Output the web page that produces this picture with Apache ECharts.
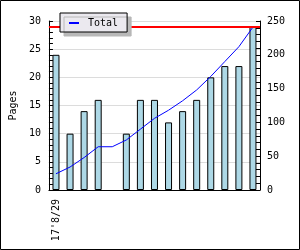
<!DOCTYPE html>
<html>
<head>
<meta charset="utf-8">
<script src="https://cdn.jsdelivr.net/npm/echarts@6/dist/echarts.min.js"></script>
<style>
  html, body { margin: 0; padding: 0; background: #fff; }
  #main { width: 300px; height: 250px; }
</style>
</head>
<body>
<div id="main"></div>
<script>
// days shown on the x axis (only the first one gets a label)
var days = ["17'8/29", "17'8/30", "17'8/31", "17'9/1", "17'9/2", "17'9/3", "17'9/4", "17'9/5",
            "17'9/6", "17'9/7", "17'9/8", "17'9/9", "17'9/10", "17'9/11", "17'9/12"];
// pages per day (left axis), no bar on the empty day
var pages = [24, 10, 14, 16, null, 10, 16, 16, 12, 14, 16, 20, 22, 22, 29];
// running total (right axis)
var total = [24, 34, 48, 64, 64, 74, 90, 106, 118, 132, 148, 168, 190, 212, 241];
var maxLine = 29;

var font = "DejaVu Sans Mono";
var myChart = echarts.init(document.getElementById("main"));
myChart.setOption({
  animation: false,
  textStyle: { fontFamily: font },
  graphic: [{
    type: "rect",
    shape: { x: 0.5, y: 0.5, width: 299, height: 249 },
    style: { fill: "none", stroke: "#000", lineWidth: 1 },
    z: 100
  }],
  legend: {
    left: 60,
    top: 13,
    data: [{ name: "Total", icon: "rect" }],
    itemWidth: 10,
    itemHeight: 2,
    padding: [5, 9, 4, 9],
    backgroundColor: "#ebe9ef",
    borderColor: "#000",
    borderWidth: 1,
    shadowColor: "#b8b8b8",
    shadowOffsetX: 4,
    shadowOffsetY: 4,
    textStyle: { fontFamily: font, fontSize: 10, color: "#000", padding: [0, 0, 0, 4] },
    z: 10
  },
  grid: { left: 41, right: 40, top: 21, bottom: 60 },
  xAxis: {
    type: "category",
    data: days,
    axisLine: { lineStyle: { color: "#000", width: 1 } },
    axisTick: { inside: true, length: 3, interval: 0, lineStyle: { color: "#000" } },
    axisLabel: {
      rotate: 90,
      margin: 9,
      fontFamily: font,
      fontSize: 10,
      color: "#000",
      interval: function (i) { return i === 0; }
    },
    splitLine: { show: false }
  },
  yAxis: [
    {
      type: "value",
      min: 0,
      max: 30,
      interval: 5,
      name: "Pages",
      nameLocation: "middle",
      nameGap: 28,
      nameTextStyle: { fontFamily: font, fontSize: 10, color: "#000" },
      axisLine: { show: true, lineStyle: { color: "#000" } },
      axisTick: { show: true, inside: true, length: 4, lineStyle: { color: "#000" } },
      minorTick: { show: true, splitNumber: 5, length: 4, lineStyle: { color: "#000" } },
      axisLabel: { margin: 8, fontFamily: font, fontSize: 10, color: "#000" },
      splitLine: { show: true, lineStyle: { color: "#dcdcdc" } }
    },
    {
      type: "value",
      min: 0,
      max: 250,
      interval: 50,
      position: "right",
      axisLine: { show: true, lineStyle: { color: "#000" } },
      axisTick: { show: true, inside: true, length: 4, lineStyle: { color: "#000" } },
      minorTick: { show: true, splitNumber: 5, length: 4, lineStyle: { color: "#000" } },
      axisLabel: { margin: 7, fontFamily: font, fontSize: 10, color: "#000" },
      splitLine: { show: false }
    }
  ],
  series: [
    {
      name: "Pages",
      type: "bar",
      yAxisIndex: 0,
      data: pages,
      barWidth: 7,
      itemStyle: { color: "#add8e6", borderColor: "#000", borderWidth: 1 },
      markLine: {
        silent: true,
        symbol: "none",
        label: { show: false },
        lineStyle: { color: "#ff0000", width: 2, type: "solid" },
        data: [{ yAxis: maxLine }]
      }
    },
    {
      name: "Total",
      type: "line",
      yAxisIndex: 1,
      data: total,
      symbol: "none",
      lineStyle: { color: "#0000ff", width: 1 },
      itemStyle: { color: "#0000ff" }
    }
  ]
});
</script>
</body>
</html>
